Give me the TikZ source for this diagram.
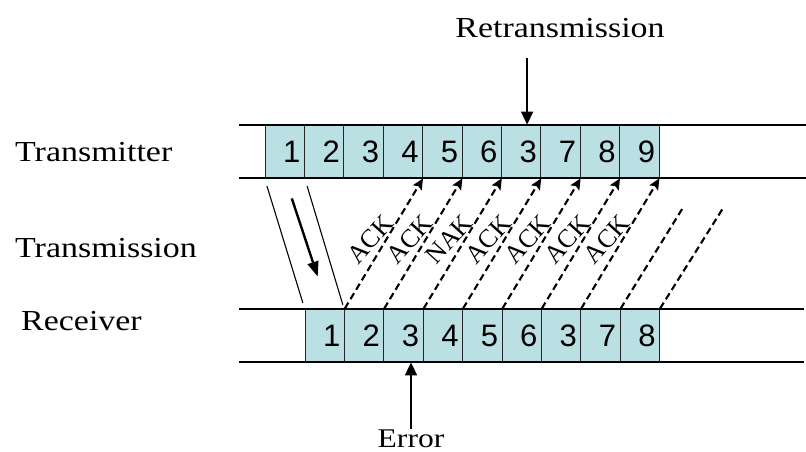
\documentclass[tikz,border=0pt]{standalone}
\usepackage{fontspec}
\setmainfont{Liberation Serif}
\newfontfamily\digitfont{Liberation Sans}
\usetikzlibrary{arrows.meta,calc}
\definecolor{framefill}{RGB}{187,224,228}
\newcommand{\widetext}[1]{\scalebox{1.17}[1]{#1}}

\begin{document}
\begin{tikzpicture}[x=1pt,y=-1pt,>={Triangle[length=13pt,width=12pt]},
    frame/.style={draw=black!85,line width=0.8pt,fill=framefill,minimum height=53pt,
      minimum width=39.4pt,text width=31.4pt,align=right,inner xsep=4pt,inner ysep=0pt,
      font=\digitfont\fontsize{31}{31}\selectfont},
    rowline/.style={line width=1.3pt},
    tag/.style={font=\fontsize{29}{34}\selectfont,inner sep=0pt},
    ack/.style={dash pattern=on 7pt off 4pt,line width=2.1pt,-{Stealth[length=11pt,width=10pt,inset=2pt]}},
    acklabel/.style={pos=0.46,rotate=48,anchor=south,inner sep=4.5pt,font=\fontsize{26}{26}\selectfont}]

    \useasboundingbox (0,0) rectangle (806,452);

    % frames sent and received
    \foreach \n [count=\i] in {1,2,3,4,5,6,3,7,8,9}
      \node[frame] (t\i) at ({265+(\i-0.5)*39.4},151.5) {\n};
    \foreach \n [count=\i] in {1,2,3,4,5,6,3,7,8}
      \node[frame] (r\i) at ({305+(\i-0.5)*39.4},335.5) {\n};

    \draw[rowline] (239,125) -- (806,125) (239,178) -- (806,178);
    \draw[rowline] (239,309) -- (804,309) (239,362) -- (804,362);

    \node[tag,anchor=base west] (tx) at (15,161) {\widetext{Transmitter}};
    \node[tag,anchor=base west] (tm) at (15,257) {\widetext{Transmission}};
    \node[tag,anchor=base west] (rx) at (21,330) {\widetext{Receiver}};
    \node[tag,anchor=base] (rt) at (560,38) {\widetext{Retransmission}};
    \node[tag,anchor=base,font=\fontsize{27}{32}\selectfont] (err) at (411,447) {\widetext{Error}};

    % first frame on its way
    \draw[line width=1.1pt,shorten <=8pt,shorten >=6pt] (t1.south west) -- (r1.north west);
    \draw[line width=1.1pt,shorten <=8pt,shorten >=4pt] (t1.south east) -- (r2.north west);
    \coordinate (go1) at ($(t1.south east)+(-13,20)$);
    \coordinate (go2) at ($(r1.north)+(-7,-32)$);
    \draw[-{Triangle[length=15pt,width=11pt]},line width=2.4pt] (go1) -- (go2);

    % acknowledgements
    \foreach \k/\msg in {1/ACK,2/ACK,3/NAK,4/ACK,5/ACK,6/ACK,7/ACK}{
      \pgfmathtruncatemacro\j{\k+3}
      \draw[ack] (r\k.north east) -- node[acklabel] {\msg} (t\j.south east);
    }
    \draw[ack,-] (r8.north east) -- ++(63,-102);
    \draw[ack,-] (r9.north east) -- ++(64,-102);

    \coordinate (rtip) at ($(t7.north)+(6,0)$);
    \coordinate (rtail) at ($(rtip)+(0,-67)$);
    \draw[->,line width=1.8pt] (rtail) -- (rtip);
    \draw[->,line width=1.8pt] (err.north) -- (err.north |- r3.south);
\end{tikzpicture}
\end{document}
